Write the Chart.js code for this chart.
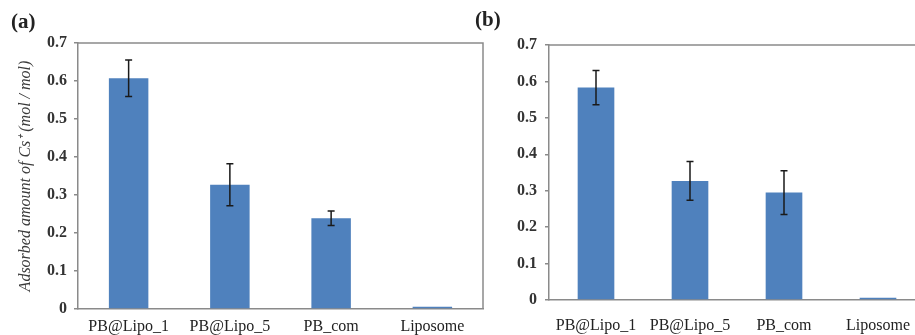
<!DOCTYPE html>
<html>
<head>
<meta charset="utf-8">
<script src="https://cdn.jsdelivr.net/npm/chart.js@4"></script>
<style>
  body { margin: 0; background: #fff; overflow: hidden; width: 915px; height: 335px; position: relative; }
  .panel { position: absolute; top: 0; height: 335px; }
  .tag { position: absolute; font: bold 21px "Liberation Serif", serif; color: #222; }
</style>
</head>
<body>
<div class="panel" style="left:0;width:490px"><canvas id="chartA"></canvas></div>
<div class="panel" style="left:462px;width:478px"><canvas id="chartB"></canvas></div>
<div class="tag" style="left:11px;top:9px">(a)</div>
<div class="tag" style="left:475px;top:7px">(b)</div>
<script>
// categories and values
const categories = ['PB@Lipo_1', 'PB@Lipo_5', 'PB_com', 'Liposome'];
const valuesA = [0.607, 0.327, 0.239, 0.006];
const errorsA = [0.048, 0.055, 0.019, 0];
const valuesB = [0.583, 0.327, 0.295, 0.006];
const errorsB = [0.047, 0.053, 0.060, 0];
const yTicks = [0, 0.1, 0.2, 0.3, 0.4, 0.5, 0.6, 0.7];

const axisColor = '#8a8a8a';
const barColor = '#4f81bd';

// top + right frame around the plot
const framePlugin = {
  id: 'frame',
  afterDraw(chart) {
    const { ctx, chartArea: a } = chart;
    ctx.save();
    ctx.strokeStyle = axisColor;
    ctx.lineWidth = 1.5;
    ctx.beginPath();
    ctx.moveTo(a.left, a.top);
    ctx.lineTo(a.right, a.top);
    ctx.lineTo(a.right, a.bottom);
    ctx.stroke();
    ctx.restore();
  }
};

// error bars from dataset.errors
const errorBarPlugin = {
  id: 'errorBars',
  afterDatasetsDraw(chart) {
    const { ctx, scales: { y } } = chart;
    chart.data.datasets.forEach((ds, i) => {
      const meta = chart.getDatasetMeta(i);
      meta.data.forEach((bar, j) => {
        const err = ds.errors[j];
        if (!err) return;
        const yTop = y.getPixelForValue(ds.data[j] + err);
        const yBot = y.getPixelForValue(ds.data[j] - err);
        ctx.save();
        ctx.strokeStyle = '#1a1a1a';
        ctx.lineWidth = 1.5;
        ctx.beginPath();
        ctx.moveTo(bar.x, yTop); ctx.lineTo(bar.x, yBot);
        ctx.moveTo(bar.x - 3.5, yTop); ctx.lineTo(bar.x + 3.5, yTop);
        ctx.moveTo(bar.x - 3.5, yBot); ctx.lineTo(bar.x + 3.5, yBot);
        ctx.stroke();
        ctx.restore();
      });
    });
  }
};

function makeChart(id, values, errors, cfg) {
  return new Chart(document.getElementById(id), {
    type: 'bar',
    data: {
      labels: categories,
      datasets: [{
        data: values,
        errors: errors,
        backgroundColor: barColor,
        borderWidth: 0,
        categoryPercentage: 1,
        barPercentage: 0.39
      }]
    },
    options: {
      responsive: true,
      maintainAspectRatio: false,
      animation: false,
      layout: { padding: { left: 0, top: cfg.top, right: cfg.right, bottom: 0 } },
      plugins: { legend: { display: false }, tooltip: { enabled: false } },
      scales: {
        x: {
          afterFit: s => { s.height = cfg.xHeight; },
          grid: { display: false, drawTicks: false, tickLength: 0 },
          border: { display: true, color: axisColor, width: 1.5 },
          ticks: {
            padding: cfg.xPad,
            color: '#222',
            maxRotation: 0,
            font: { family: 'Liberation Serif', size: 16 }
          }
        },
        y: {
          min: 0,
          max: 0.7,
          afterFit: s => { s.width = cfg.yWidth; },
          afterBuildTicks: s => { s.ticks = yTicks.map(v => ({ value: v })); },
          grid: { drawOnChartArea: false, drawTicks: true, tickLength: 4, color: axisColor, lineWidth: 1.5 },
          border: { display: true, color: axisColor, width: 1.5 },
          ticks: {
            padding: cfg.yPad,
            color: '#333',
            font: { family: 'Liberation Serif', size: 16, weight: 'bold' },
            callback: v => (v === 0 ? '0' : v.toFixed(1))
          },
          title: {
            display: !!cfg.title,
            text: cfg.title || '',
            color: '#3a3a3a',
            padding: { top: 16, bottom: 0 },
            font: { family: 'Liberation Serif', size: 16, style: 'italic' }
          }
        }
      }
    },
    plugins: [framePlugin, errorBarPlugin]
  });
}

makeChart('chartA', valuesA, errorsA, {
  top: 43, right: 7, xHeight: 26, yWidth: 78, xPad: 8, yPad: 7,
  title: 'Adsorbed amount of Cs\u207A (mol / mol)'
});
makeChart('chartB', valuesB, errorsB, {
  top: 45, right: 15, xHeight: 35, yWidth: 87, xPad: 16, yPad: 8
});
</script>
</body>
</html>
